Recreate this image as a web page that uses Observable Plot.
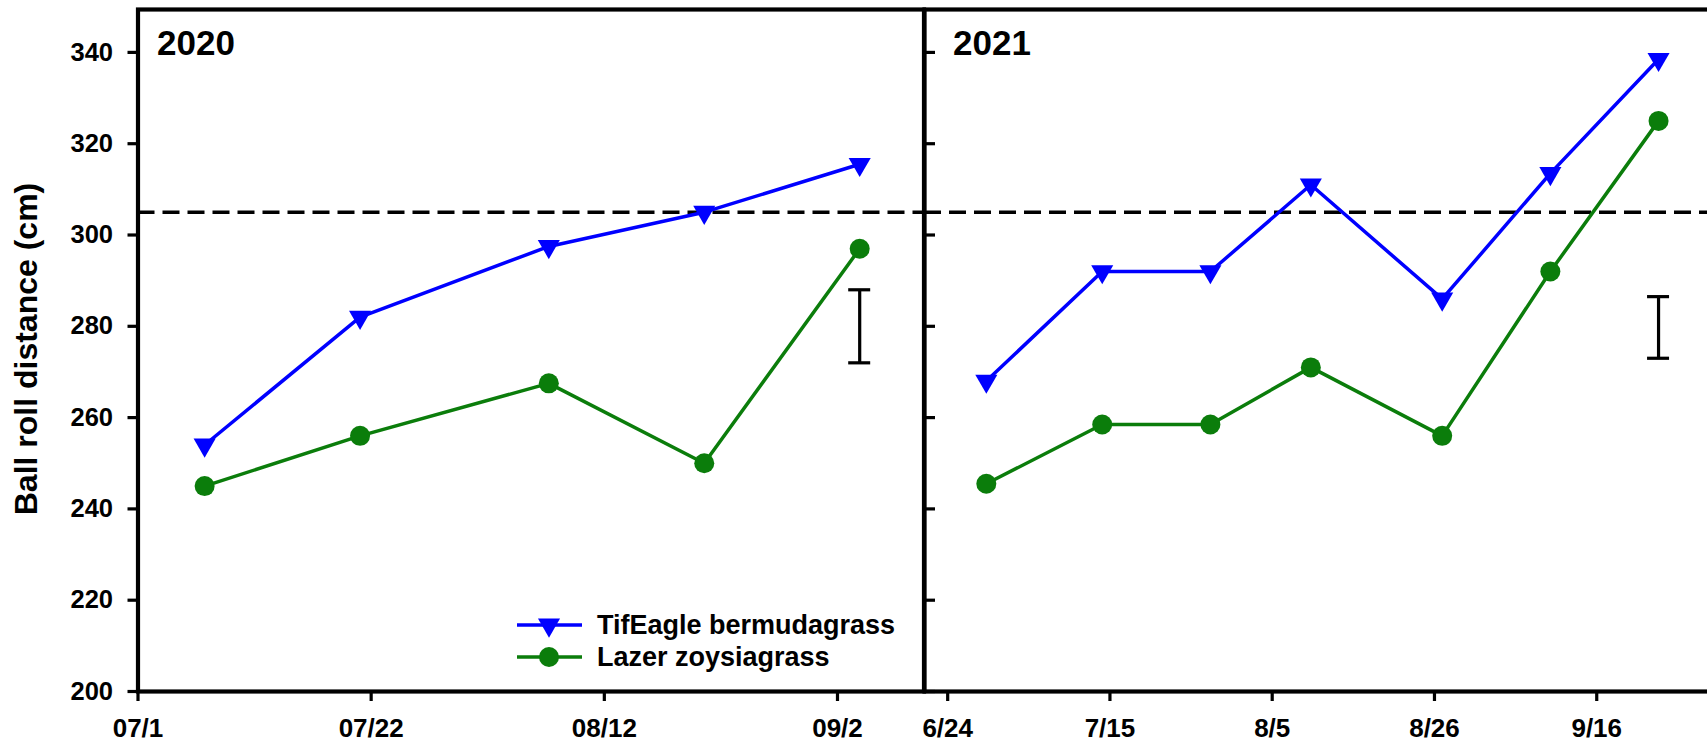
<!DOCTYPE html>
<html><head><meta charset="utf-8">
<script src="https://cdn.jsdelivr.net/npm/d3@7"></script>
<script src="https://cdn.jsdelivr.net/npm/@observablehq/plot@0.6"></script>
<style>
html,body{margin:0;padding:0;background:#fff;overflow:hidden;}
#wrap{position:relative;width:1707px;height:744px;overflow:hidden;background:#fff;font-family:"Liberation Sans",Arial,sans-serif;font-weight:bold;}
#left,#right,#overlay{position:absolute;top:0;}
</style></head><body>
<div id="wrap">
  <div id="left" style="left:0;width:924px;height:744px"></div>
  <div id="right" style="left:923.5px;width:792px;height:744px"></div>
  <svg id="overlay" width="1707" height="744" style="left:0;pointer-events:none"></svg>
</div>
<script>
// ---- data ----
const seriesNames = ["TifEagle bermudagrass", "Lazer zoysiagrass"];
const seriesColors = ["#0000ff", "#0b7d0b"];
const dates2020 = ["2020-07-07", "2020-07-21", "2020-08-07", "2020-08-21", "2020-09-04"];
const tif2020 = [254, 282, 297.5, 305, 315.5];
const lazer2020 = [245, 256, 267.5, 250, 297];
const dates2021 = ["2021-06-29", "2021-07-14", "2021-07-28", "2021-08-10", "2021-08-27", "2021-09-10", "2021-09-24"];
const tif2021 = [268, 292, 292, 311, 286, 313.5, 338.5];
const lazer2021 = [245.5, 258.5, 258.5, 271, 256, 292, 325];
const lsd2020 = [{date: "2020-09-04", low: 272, high: 288}];
const lsd2021 = [{date: "2021-09-24", low: 273, high: 286.5}];
const threshold = 305;
const yTicks = [200, 220, 240, 260, 280, 300, 320, 340];
const xTicks2020 = ["2020-07-01", "2020-07-22", "2020-08-12", "2020-09-02"];
const xTicks2021 = ["2021-06-24", "2021-07-15", "2021-08-05", "2021-08-26", "2021-09-16"];
const domain2020 = ["2020-07-01", "2020-09-09T19:00"];
const domain2021 = ["2021-06-21", "2021-10-01T12:00"];
const yDomain = [200, 349.4];
const panelLabels = ["2020", "2021"];

const D = s => new Date(s + (s.length === 10 ? "T00:00Z" : "Z"));
function table(dates, tif, laz) {
  const rows = [];
  dates.forEach((d, i) => rows.push({date: D(d), value: tif[i], series: seriesNames[0]}));
  dates.forEach((d, i) => rows.push({date: D(d), value: laz[i], series: seriesNames[1]}));
  return rows;
}

const baseStyle = {fontFamily: '"Liberation Sans", Arial, sans-serif', fontSize: "25px", fontWeight: "bold",
  overflow: "visible", maxWidth: "none", background: "transparent", color: "black"};

function panel({rows, lsd, dom, ticks, fmt, width, marginLeft, marginRight, leftAxis}) {
  const lsdRows = lsd.map(d => ({...d, date: D(d.date)}));
  return Plot.plot({
    width, height: 744, marginTop: 9, marginBottom: 53, marginLeft, marginRight,
    style: baseStyle,
    x: {type: "utc", domain: dom.map(D)},
    y: {domain: yDomain},
    color: {domain: seriesNames, range: seriesColors},
    marks: [
      Plot.ruleY([threshold], {stroke: "black", strokeWidth: 3.5, strokeDasharray: "17,8"}),
      Plot.line(rows, {x: "date", y: "value", z: "series", stroke: "series", strokeWidth: 3.5}),
      Plot.dot(rows.filter(d => d.series === seriesNames[0]), {x: "date", y: "value", symbol: "triangle", rotate: 180, r: 8.2, fill: seriesColors[0], stroke: "none"}),
      Plot.dot(rows.filter(d => d.series === seriesNames[1]), {x: "date", y: "value", symbol: "circle", r: 10, fill: seriesColors[1], stroke: "none"}),
      Plot.ruleX(lsdRows, {x: "date", y1: "low", y2: "high", stroke: "black", strokeWidth: 3.2}),
      Plot.ruleY(lsdRows, {x1: "date", x2: "date", y: "low", insetLeft: -11, insetRight: -11, stroke: "black", strokeWidth: 3.2}),
      Plot.ruleY(lsdRows, {x1: "date", x2: "date", y: "high", insetLeft: -11, insetRight: -11, stroke: "black", strokeWidth: 3.2}),
      Plot.axisX({ticks: ticks.map(D), tickFormat: d3.utcFormat(fmt), tickSize: 10, tickPadding: 17, strokeWidth: 3.2, fontSize: 26, label: null}),
      leftAxis
        ? Plot.axisY({ticks: yTicks, tickSize: 10, tickPadding: 15, strokeWidth: 3.2, fontSize: 25.5, label: null})
        : Plot.axisY({ticks: yTicks, tickSize: -11, tickFormat: () => "", strokeWidth: 3.2, label: null}),
      Plot.frame({stroke: "black", strokeWidth: 4.2})
    ]
  });
}

document.getElementById("left").append(panel({
  rows: table(dates2020, tif2020, lazer2020), lsd: lsd2020, dom: domain2020, ticks: xTicks2020,
  fmt: "%m/%-d", width: 924, marginLeft: 137.5, marginRight: 0.5, leftAxis: true
}));
document.getElementById("right").append(panel({
  rows: table(dates2021, tif2021, lazer2021), lsd: lsd2021, dom: domain2021, ticks: xTicks2021,
  fmt: "%-m/%-d", width: 792, marginLeft: 0, marginRight: 0, leftAxis: false
}));

// ---- overlay texts & legend ----
const ov = d3.select("#overlay").style("font-family", '"Liberation Sans", Arial, sans-serif').style("font-weight", "bold");
ov.append("text").attr("transform", "translate(26,349) rotate(-90)").attr("text-anchor", "middle")
  .attr("dominant-baseline", "central").attr("font-size", 32).text("Ball roll distance (cm)");
ov.append("text").attr("x", 157).attr("y", 55).attr("font-size", 35).text(panelLabels[0]);
ov.append("text").attr("x", 953).attr("y", 55).attr("font-size", 35).text(panelLabels[1]);
const lg = ov.append("g");
const rowsY = [625, 657];
rowsY.forEach((yy, i) => {
  lg.append("line").attr("x1", 517).attr("x2", 582).attr("y1", yy).attr("y2", yy)
    .attr("stroke", seriesColors[i]).attr("stroke-width", 3.5);
  if (i === 0) {
    lg.append("path").attr("d", d3.symbol(d3.symbolTriangle, 8.2 * 8.2 * Math.PI)())
      .attr("transform", `translate(549,${yy}) rotate(180)`).attr("fill", seriesColors[i]);
  } else {
    lg.append("circle").attr("cx", 549).attr("cy", yy).attr("r", 10).attr("fill", seriesColors[i]);
  }
  lg.append("text").attr("x", 597).attr("y", yy + 9).attr("font-size", 27).text(seriesNames[i]);
});
</script>
</body></html>
